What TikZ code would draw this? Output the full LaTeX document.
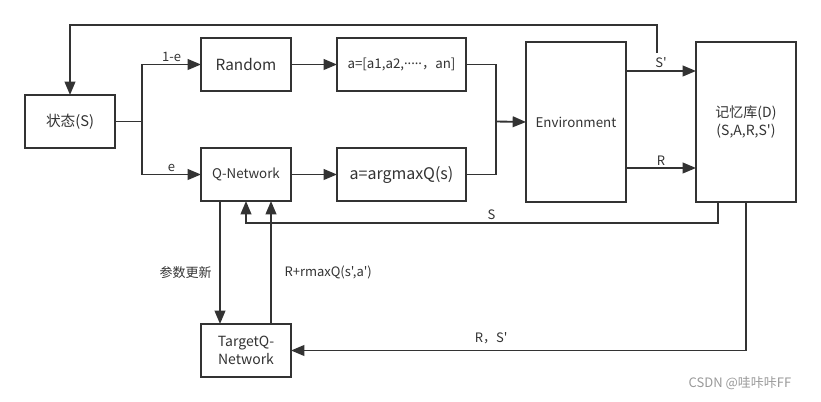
\documentclass[tikz,border=0pt]{standalone}
\usepackage{fontspec}
\newfontfamily\yahei{Noto Sans CJK SC}
\newfontfamily\latin{Noto Sans}
\usetikzlibrary{arrows.meta}
\definecolor{lncol}{HTML}{333333}
\definecolor{txtcol}{HTML}{333333}

\begin{document}
\begin{tikzpicture}[x=0.75pt,y=-0.75pt,line join=miter,>={Triangle[length=10pt,width=8pt]},
	box/.style={draw=lncol,line width=1.4pt,fill=white,inner sep=0pt,outer sep=0pt,
		minimum width=67.5pt,minimum height=39.75pt,text=txtcol,font=\yahei\fontsize{10}{12.5}\selectfont},
	wide/.style={box,minimum width=96.75pt},
	tall/.style={box,minimum width=75pt,minimum height=120pt},
	lbl/.style={text=txtcol,font=\yahei\fontsize{9.75}{11}\selectfont,inner sep=1.5pt},
	link/.style={draw=lncol,line width=1.4pt}]
	\useasboundingbox (0,0) rectangle (821,402);
	% boxes
	\node[box,font=\yahei\fontsize{11}{13}\selectfont] (state) at (70,121.5) {状态(S)};
	\node[box,font=\yahei\fontsize{11.5}{13}\selectfont] (random) at (246,64.5) {Random};
	\node[box] (qnet) at (246,174.5) {Q-Network};
	\node[wide,font=\yahei\fontsize{10}{12}\selectfont] (act1) at (401.5,64.5) {a=[a1,a2,{\latin ·····}，an]};
	\node[wide,font=\yahei\fontsize{12}{13}\selectfont] (act2) at (401.5,174.5) {a=argmaxQ(s)};
	\node[tall] (env) at (576,122) {Environment};
	\node[tall,align=center,font=\yahei\fontsize{10.5}{13}\selectfont] (mem) at (746,122) {记忆库(D)\\(S,A,R,S')};
	\node[box,align=center,font=\yahei\fontsize{10.5}{13}\selectfont] (target) at (246,350.5) {TargetQ-\\Network};
	% choice of action
	\coordinate (fork) at (142,121.5);
	\draw[link] (state.east) -- (fork);
	\draw[link,->] (fork) |- (random.west) node[lbl,pos=.75,above] {1-e};
	\draw[link,->] (fork) |- (qnet.west) node[lbl,pos=.75,above] {e};
	\draw[link,->] (random) -- (act1);
	\draw[link,->] (qnet) -- (act2);
	\coordinate (merge) at (496,121.5);
	\draw[link] (act1.east) -| (merge);
	\draw[link] (act2.east) -| (merge);
	\draw[link,->] (merge) -- (env.west);
	% environment to memory
	\draw[link,->] ([yshift=38.25pt]env.east) -- ([yshift=38.25pt]mem.west) node[lbl,midway,above] {S'};
	\draw[link,->] ([yshift=-34.5pt]env.east) -- ([yshift=-34.5pt]mem.west) node[lbl,midway,above] {R};
	% next state back to state
	\coordinate (snext) at (657,53);
	\coordinate (top) at (657,25);
	\draw[link,->] (snext) -- (top) -| (state.north);
	% replay
	\draw[link,->] ([xshift=-21pt]mem.south) -- ++(0,21) -| (qnet.south) node[lbl,pos=.24,above] {S};
	\draw[link,->] (mem.south) |- (target.east) node[lbl,pos=.78,above=3pt] {R，S'};
	\draw[link,->] ([xshift=-19.5pt]qnet.south) -- ([xshift=-19.5pt]target.north) node[lbl,pos=.58,left=4pt] {参数更新};
	\draw[link,->] ([xshift=18.75pt]target.north) -- ([xshift=18.75pt]qnet.south) node[lbl,pos=.42,right=8pt] {R+rmaxQ(s',a')};
	% watermark
	\node[text=gray!80,font=\yahei\fontsize{9.75}{11}\selectfont] (csdn) at (740,383) {CSDN @哇咔咔FF};
\end{tikzpicture}
\end{document}
